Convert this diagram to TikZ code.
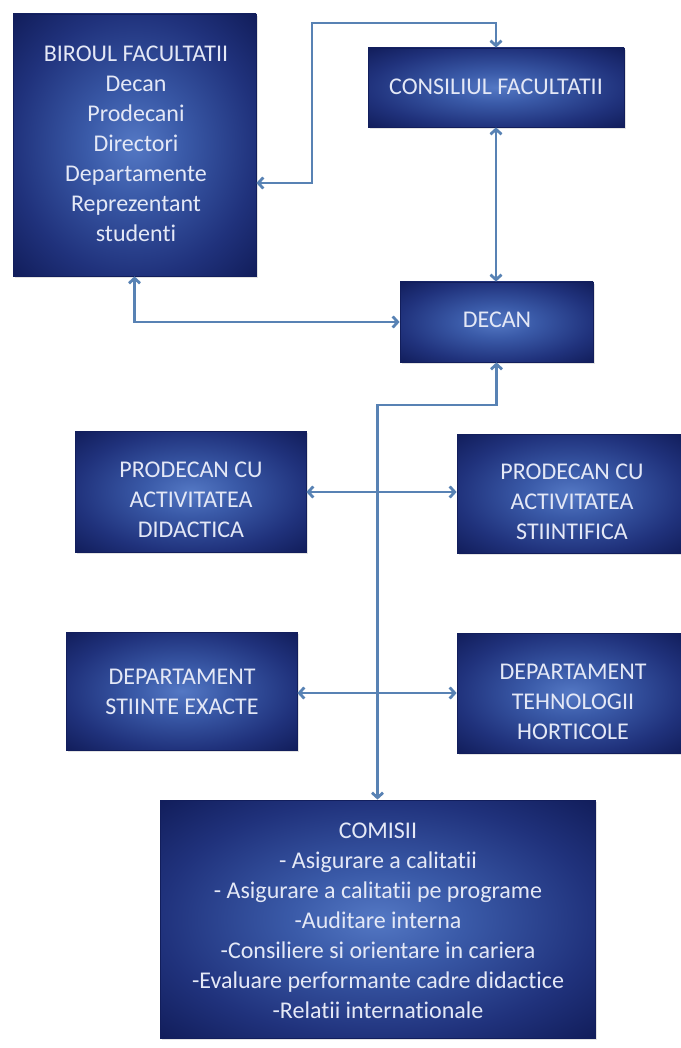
\documentclass[tikz,border=0pt]{standalone}
\usepackage{fontspec}
\setmainfont[Ligatures={NoCommon}]{Carlito}
\usetikzlibrary{arrows.meta,shadows}
\definecolor{glowin}{RGB}{84,120,196}
\definecolor{glowmid}{RGB}{58,90,168}
\definecolor{glowout}{RGB}{32,50,124}
\definecolor{glowedge}{RGB}{18,30,92}
\definecolor{linkc}{RGB}{88,130,180}
\definecolor{txtc}{RGB}{228,232,246}
\pgfdeclareradialshading{boxglow}{\pgfpoint{0bp}{0bp}}{color(0bp)=(glowin); color(10bp)=(glowmid); color(25bp)=(glowout); color(35bp)=(glowedge); color(50bp)=(glowedge)}
\tikzset{
  box/.style={rectangle, draw=glowedge, line width=0.8pt, shading=boxglow,
    drop shadow={opacity=0.22,shadow xshift=2pt,shadow yshift=-2pt}, inner sep=0pt},
  txt/.style={text=txtc, align=center, font=\fontsize{24}{30}\selectfont, inner sep=0pt},
  conn/.style={draw=linkc, line width=2.8pt,
    {Straight Barb[length=5pt,width=11pt]}-{Straight Barb[length=5pt,width=11pt]}}
}
\begin{document}
\begin{tikzpicture}[x=1pt,y=-1pt]
\useasboundingbox[fill=white] (0,0) rectangle (680,1048);
% boxes
\node[box, minimum width=243pt, minimum height=262pt] (birou) at (134.5,145) {};
\node[box, minimum width=256pt, minimum height=79pt] (consiliu) at (496,87.5) {};
\node[box, minimum width=193pt, minimum height=80pt] (decan) at (496.5,322) {};
\node[box, minimum width=231pt, minimum height=121pt] (prodL) at (190.5,491.5) {};
\node[box, minimum width=227pt, minimum height=119pt] (prodR) at (570.5,493.5) {};
\node[box, minimum width=231pt, minimum height=118pt] (depL) at (181.5,691) {};
\node[box, minimum width=227pt, minimum height=120pt] (depR) at (570.5,693) {};
\node[box, minimum width=435pt, minimum height=238pt] (comisii) at (377.5,919) {};
% texts
\node[txt] (tbirou) at (136,144) {BIROUL FACULTATII\\Decan\\Prodecani\\Directori\\Departamente\\Reprezentant\\studenti};
\node[txt] (tconsiliu) at (496,87) {CONSILIUL FACULTATII};
\node[txt] (tdecan) at (497,320) {DECAN};
\node[txt] (tprodL) at (191,500) {PRODECAN CU\\ACTIVITATEA\\DIDACTICA};
\node[txt] (tprodR) at (572,502) {PRODECAN CU\\ACTIVITATEA\\STIINTIFICA};
\node[txt] (tdepL) at (182,692) {DEPARTAMENT\\STIINTE EXACTE};
\node[txt] (tdepR) at (573,702) {DEPARTAMENT\\TEHNOLOGII\\HORTICOLE};
\node[txt] (tcomisii) at (378,921) {COMISII\\- Asigurare a calitatii\\- Asigurare a calitatii pe programe\\-Auditare interna\\-Consiliere si orientare in cariera\\-Evaluare performante cadre didactice\\-Relatii internationale};
% connectors
\coordinate (j1) at (312,183);
\coordinate (j2) at (312,23);
\draw[conn] (birou.east |- j1) -- (j1) -- (j2) -- (j2 -| consiliu.north) -- (consiliu.north);
\draw[conn] (consiliu.south) -- (consiliu.south |- decan.north);
\draw[conn] (birou.south) |- (decan.west);
\coordinate (j3) at (377.5,405);
\draw[conn] (decan.south) -- (decan.south |- j3) -- (j3) -- (comisii.north);
\draw[conn] (prodL.east |- 0,492) -- (prodR.west |- 0,492);
\draw[conn] (depL.east |- 0,693) -- (depR.west |- 0,693);
\end{tikzpicture}
\end{document}
